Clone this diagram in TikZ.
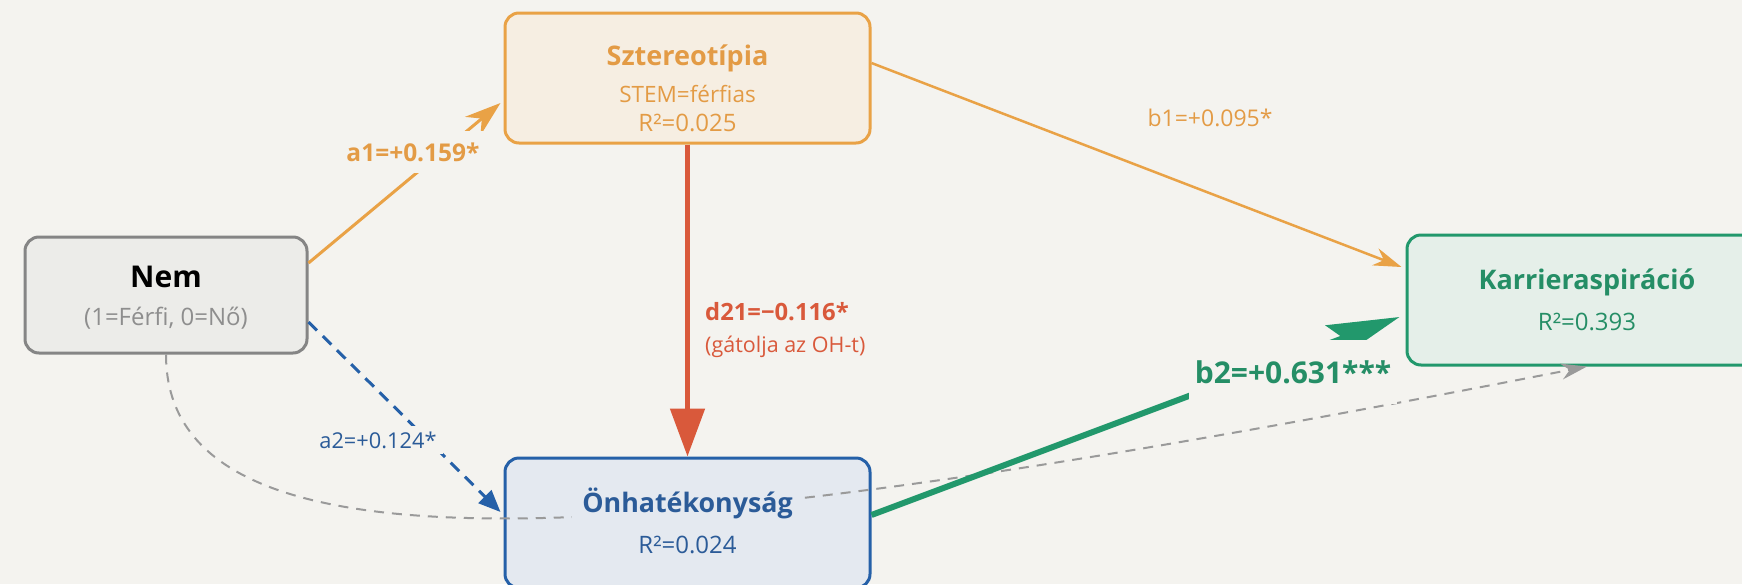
\documentclass[tikz,border=0pt]{standalone}
\usepackage{fontspec}
\setmainfont{Open Sans}
\usetikzlibrary{arrows.meta,calc}
\definecolor{bg}{HTML}{F4F3EF}
\definecolor{nemfill}{HTML}{ECECE9}
\definecolor{nemdraw}{HTML}{858585}
\definecolor{nemsub}{HTML}{8E8E8E}
\definecolor{orng}{HTML}{E9A246}
\definecolor{orngtxt}{HTML}{E39B45}
\definecolor{orngfill}{HTML}{F6EEE2}
\definecolor{blu}{HTML}{2560A8}
\definecolor{blutxt}{HTML}{2B5B98}
\definecolor{blufill}{HTML}{E4E9F0}
\definecolor{grn}{HTML}{22986C}
\definecolor{grntxt}{HTML}{258E66}
\definecolor{grnfill}{HTML}{E5EFE9}
\definecolor{rd}{HTML}{D9593B}
\definecolor{gry}{HTML}{9A9A9A}
\tikzset{
  box/.style={draw, line width=3pt, rounded corners=14pt, minimum width=#1, minimum height=116pt},
  ttl/.style={font=\fontsize{#1}{#1}\selectfont\bfseries, inner sep=2pt},
  sub/.style={font=\fontsize{#1}{#1}\selectfont, inner sep=2pt},
  lbl/.style={fill=bg, inner sep=6pt}
}
\begin{document}
\begin{tikzpicture}[x=1pt,y=-1pt]
\useasboundingbox (0,0) rectangle (1742,584);
\fill[bg] (0,0) rectangle (1742,584);
% boxes
\node[box=282pt, draw=nemdraw, fill=nemfill] (nem) at (166,295) {};
\node[box=365pt, minimum height=130pt, draw=orng, fill=orngfill] (szt) at (687.5,78) {};
\node[box=365pt, minimum height=130pt, draw=blu, fill=blufill] (onh) at (687.5,523) {};
\node[box=362pt, minimum height=130pt, draw=grn, fill=grnfill] (kar) at (1588,300) {};
% connectors
\draw[gry, line width=2pt, dash pattern=on 10pt off 8pt, -{Stealth[length=26pt,width=16pt]}]
  (nem.south) .. controls (166,600) and (700,540) .. ($(kar.south)+(-1,0)$);
\draw[orng, line width=3pt, -{Stealth[length=36pt,width=24pt]}]
  ($(nem.east)+(0,-32)$) -- ($(szt.west)+(-3,25)$);
\draw[blu, line width=3pt, dash pattern=on 12pt off 8pt, -{Triangle[length=22pt,width=18pt]}]
  ($(nem.east)+(0,27)$) -- ($(onh.west)+(-3,-11)$);
\draw[orng, line width=2.5pt, -{Stealth[length=28pt,width=18pt]}]
  ($(szt.east)+(0,-15)$) -- ($(kar.west)+(-4,-33)$);
\draw[rd, line width=5pt, -{Triangle[length=48pt,width=34pt]}]
  (szt.south) -- (onh.north);
\draw[grn, line width=6pt, -{Stealth[length=72pt,width=36pt,inset=12pt]}]
  ($(onh.east)+(0,-8)$) -- ($(kar.west)+(-6,17)$);
% box texts
\node[ttl=30pt] (nemT) at (166,277) {Nem};
\node[sub=24pt, text=nemsub] (nemS) at (166,318) {(1=Férfi, 0=Nő)};
\node[ttl=27pt, text=orngtxt] (sztT) at (687.5,58) {Sztereotípia};
\node[sub=22.5pt, text=orngtxt] (sztS) at (687.5,94) {STEM=férfias};
\node[sub=24pt, text=orngtxt] (sztR) at (687.5,123) {R²=0.025};
\node[ttl=26.8pt, text=blutxt, fill=blufill, inner xsep=10pt] (onhT) at (687.5,503) {Önhatékonyság};
\node[sub=24pt, text=blutxt] (onhR) at (687.5,545) {R²=0.024};
\node[ttl=27pt, text=grntxt] (karT) at (1587,282) {Karrieraspiráció};
\node[sub=24pt, text=grntxt] (karR) at (1587,322) {R²=0.393};
% labels
\node[lbl, font=\fontsize{24.5pt}{24.5pt}\selectfont\bfseries, text=orngtxt, inner ysep=12pt] (a1L) at (413,152) {a1=+0.159*};
\node[lbl, font=\fontsize{21.8pt}{21.8pt}\selectfont, text=blutxt] (a2L) at (378,440) {a2=+0.124*};
\node[lbl, font=\fontsize{23pt}{23pt}\selectfont, text=orngtxt] (b1L) at (1210,118) {b1=+0.095*};
\node[lbl, font=\fontsize{30pt}{30pt}\selectfont\bfseries, text=grntxt, inner ysep=20pt] (b2L) at (1293,372) {b2=+0.631***};
\node[font=\fontsize{23.8pt}{23.8pt}\selectfont\bfseries, text=rd, anchor=west, inner sep=0pt] (d21L) at (705,312) {d21=−0.116*};
\node[font=\fontsize{21.5pt}{21.5pt}\selectfont, text=rd, anchor=west, inner sep=0pt] (d21S) at (705,347) {(gátolja az OH-t)};
\end{tikzpicture}
\end{document}
